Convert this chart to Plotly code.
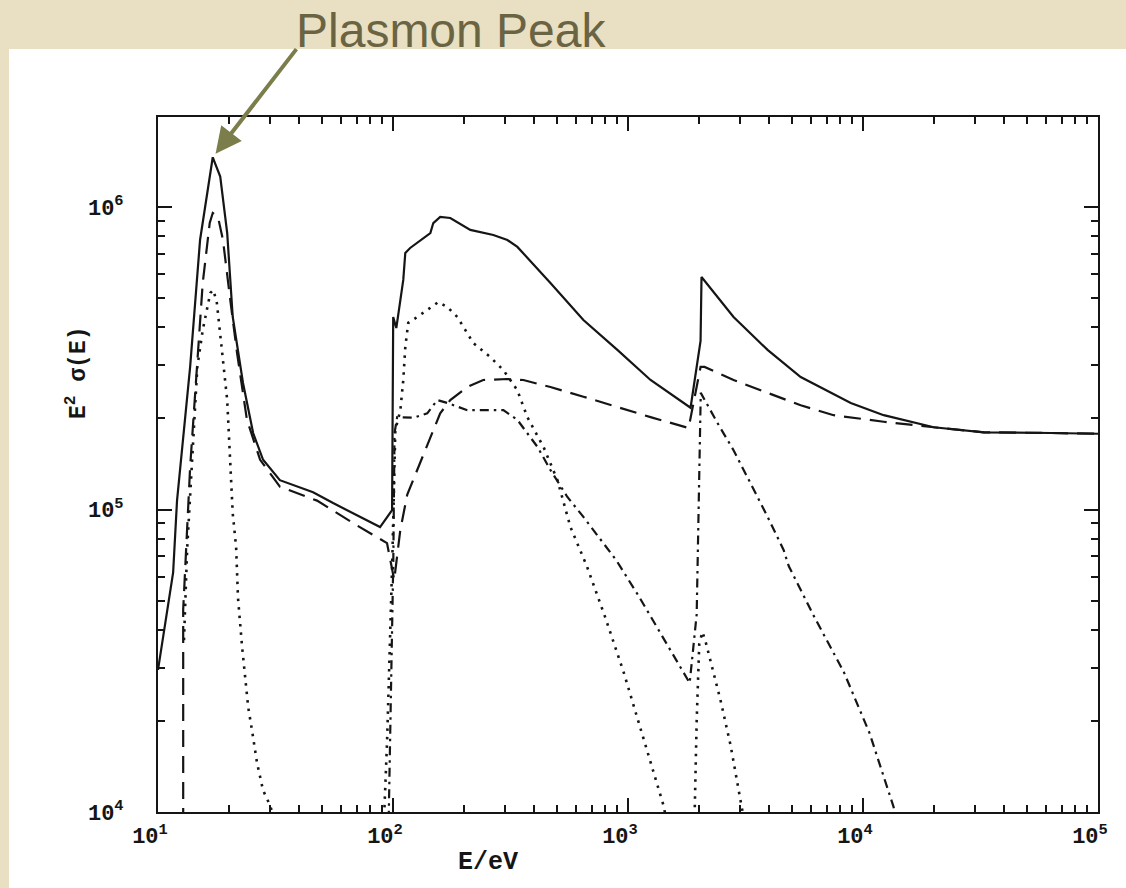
import numpy as np
import plotly.graph_objects as go

# ---------------- data ----------------
# total (solid)
E_total = [10, 10.9, 11.6, 12.05, 13.7, 15.1, 17.1, 18.4, 19.7, 20.8, 23.0, 25.4, 28.0, 33.0,
           45.7, 55.6, 88.1, 99.1, 100.2, 103.3, 106.5, 110.6, 112.8, 118.3, 144.2, 148.4,
           158.8, 175.3, 213.3, 267.3, 306.7, 338.3, 467.7, 646, 901, 1247, 1846, 2036, 2055,
           2813, 3926, 5431, 8870, 12250, 20000, 32700, 63100, 100000]
S_total = [2.95e4, 4.55e4, 6.2e4, 1.07e5, 2.96e5, 7.78e5, 1.46e6, 1.26e6, 8.2e5, 4.33e5, 2.62e5,
           1.79e5, 1.46e5, 1.25e5, 1.14e5, 1.05e5, 8.75e4, 9.96e4, 4.33e5, 3.98e5, 4.74e5,
           5.74e5, 7.05e5, 7.32e5, 8.2e5, 8.85e5, 9.27e5, 9.2e5, 8.4e5, 8.08e5, 7.78e5, 7.38e5,
           5.61e5, 4.23e5, 3.37e5, 2.68e5, 2.17e5, 3.61e5, 5.87e5, 4.33e5, 3.37e5, 2.74e5,
           2.25e5, 2.05e5, 1.87e5, 1.80e5, 1.79e5, 1.78e5]

# dashed
E_dash = [12.8, 12.8, 13.7, 14.7, 15.5, 16.6, 17.1, 18.0, 18.9, 20.3, 21.7, 23.9, 27.2, 33.0,
          47.5, 67.6, 94.3, 101.2, 107.4, 115, 126.9, 158.8, 175.3, 207, 242, 306.7, 358.6,
          467.7, 646, 901, 1247, 1811, 1977, 2036, 2118, 2813, 3926, 5431, 7500, 12250, 20000,
          32700, 63100, 100000]
S_dash = [5e3, 4.66e4, 1.38e5, 2.96e5, 5.61e5, 8.86e5, 9.55e5, 9.27e5, 7.78e5, 4.93e5, 3.29e5,
          1.98e5, 1.46e5, 1.19e5, 1.07e5, 9.02e4, 7.74e4, 5.85e4, 8.55e4, 1.12e5, 1.35e5,
          2.08e5, 2.30e5, 2.54e5, 2.68e5, 2.70e5, 2.68e5, 2.54e5, 2.36e5, 2.18e5, 2.02e5,
          1.86e5, 2.62e5, 2.96e5, 2.96e5, 2.68e5, 2.43e5, 2.21e5, 2.05e5, 1.95e5, 1.87e5,
          1.80e5, 1.79e5, 1.78e5]

# dotted (three pieces, separated by None)
E_dot = [12.9, 13.2, 13.3, 14.7, 15.5, 16.7, 17.2, 17.8, 18.4, 19.7, 20.5, 20.8, 21.5, 21.9,
         22.8, 23.5, 24.2, 25.1, 26.4, 28.0, 30.0, 30.6, 31.5, None,
         90.8, 94.4, 99.3, 102.3, 107.5, 110.6, 112.8, 116.1, 126.9, 155.9, 170.4, 187.8,
         219.7, 259.5, 295, 338, 373, 437, 501, 569, 668, 800, 958, 1146, 1422, 1450, None,
         1910, 1960, 2010, 2075, 2150, 2244, 2476, 2733, 3016, 3078, 3150]
S_dot = [3.7e4, 5.85e4, 7.35e4, 2.96e5, 3.92e5, 5.2e5, 5.32e5, 4.82e5, 3.83e5, 2.30e5, 1.22e5,
         9.7e4, 7.5e4, 5.1e4, 3.51e4, 2.73e4, 2.22e4, 1.87e4, 1.45e4, 1.18e4, 1.05e4, 1e4, 9e3, None,
         8e3, 1.73e4, 6.8e4, 1.83e5, 2.13e5, 2.68e5, 3.44e5, 4.14e5, 4.33e5, 4.85e5, 4.67e5,
         4.33e5, 3.55e5, 3.19e5, 2.89e5, 2.48e5, 2.02e5, 1.61e5, 1.25e5, 8.75e4, 6.5e4, 4.4e4,
         2.9e4, 1.82e4, 1.04e4, 9.5e3, None,
         8e3, 2.0e4, 3.6e4, 3.94e4, 3.6e4, 3.18e4, 2.34e4, 1.66e4, 1.1e4, 1.0e4, 9e3]

# dash-dot
E_dd = [95.5, 97.3, 100.3, 101.5, 104.2, 121.9, 139.9, 154.3, 170.2, 207, 295, 338, 412, 468,
        552, 646, 891, 1106, 1373, 1830, 1960, 2010, 2040, 2405, 2813, 3323, 3930, 4594, 4830,
        6220, 8290, 10670, 13490, 14000]
S_dd = [8e3, 1.82e4, 6.8e4, 1.79e5, 2.02e5, 2.01e5, 2.08e5, 2.30e5, 2.25e5, 2.13e5, 2.13e5,
        1.98e5, 1.61e5, 1.35e5, 1.10e5, 9.45e4, 6.8e4, 5.2e4, 3.9e4, 2.67e4, 4.5e4, 1.5e5,
        2.43e5, 1.93e5, 1.57e5, 1.22e5, 9.45e4, 7.35e4, 6.5e4, 4.4e4, 2.9e4, 1.82e4, 1.04e4, 9e3]

x_tick_vals = [1e1, 1e2, 1e3, 1e4, 1e5]
x_tick_text = ["10<sup>1</sup>", "10<sup>2</sup>", "10<sup>3</sup>", "10<sup>4</sup>", "10<sup>5</sup>"]
y_tick_vals = [1e4, 1e5, 1e6]
y_tick_text = ["10<sup>4</sup>", "10<sup>5</sup>", "10<sup>6</sup>"]
x_minor = [m * 10 ** k for k in range(1, 5) for m in range(2, 10)]
y_minor = [m * 10 ** k for k in range(4, 7) for m in range(2, 10)]

peak_E, peak_S = 17.1, 1.46e6

# ---------------- figure ----------------
W, H = 1126, 888
L, R, T, B = 158, 1098, 117, 812
ink = "#151515"

fig = go.Figure()
fig.add_trace(go.Scatter(x=E_total, y=S_total, mode="lines",
                         line=dict(color=ink, width=2.2), showlegend=False))
fig.add_trace(go.Scatter(x=E_dash, y=S_dash, mode="lines",
                         line=dict(color=ink, width=2.2, dash="17px,9px"), showlegend=False))
fig.add_trace(go.Scatter(x=E_dot, y=S_dot, mode="lines", connectgaps=False,
                         line=dict(color=ink, width=2.6, dash="2.5px,6px"), showlegend=False))
fig.add_trace(go.Scatter(x=E_dd, y=S_dd, mode="lines",
                         line=dict(color=ink, width=2.2, dash="9px,5px,2.5px,5px"), showlegend=False))


def px(xp):
    return (xp - L) / (R - L)


def py(yp):
    return (B - yp) / (B - T)


tickfont = dict(family="Liberation Mono", size=22, color=ink, weight="bold")
axis_common = dict(type="log", showgrid=False, zeroline=False, showline=True,
                   linecolor=ink, linewidth=2, mirror="allticks", ticks="inside",
                   ticklen=14, tickwidth=2, tickcolor=ink, tickfont=tickfont)

fig.update_xaxes(range=[1, 5], tickmode="array", tickvals=x_tick_vals, ticktext=x_tick_text,
                 ticklabelstandoff=3, ticklabelshift=-8,
                 minor=dict(tickmode="array", tickvals=x_minor, ticks="inside", ticklen=7,
                            tickwidth=1.5, tickcolor=ink),
                 **axis_common)
fig.update_yaxes(range=[4, 4 + (B - T) / 302.5], tickmode="array", tickvals=y_tick_vals,
                 ticktext=y_tick_text, ticklabelstandoff=28,
                 minor=dict(tickmode="array", tickvals=y_minor, ticks="inside", ticklen=7,
                            tickwidth=1.5, tickcolor=ink),
                 **axis_common)

fig.update_layout(
    width=W, height=H, autosize=False,
    margin=dict(l=L, r=W - R, t=T, b=H - B, pad=0),
    paper_bgcolor="#e9e0c4", plot_bgcolor="white",
    shapes=[dict(type="rect", xref="paper", yref="paper", layer="below",
                 x0=px(9), x1=px(1130), y0=py(892), y1=py(49),
                 fillcolor="white", line=dict(width=0))],
    annotations=[
        dict(text="Plasmon Peak", xref="paper", yref="paper", x=px(451), y=py(30),
             xanchor="center", yanchor="middle", showarrow=False,
             font=dict(family="Liberation Sans", size=48, color="#6b6442")),
        dict(text="", xref="x", yref="y", x=np.log10(peak_E) + 0.012, y=np.log10(peak_S) + 0.012,
             showarrow=True, arrowhead=2, arrowsize=1.3, arrowwidth=4, arrowcolor="#7b7d4b",
             ax=82, ay=-106),
        dict(text="E/eV", xref="paper", yref="paper", x=px(488), y=py(862),
             xanchor="center", yanchor="middle", showarrow=False,
             font=dict(family="Liberation Mono", size=25, color=ink, weight="bold")),
        dict(text="E<sup>2</sup> σ(E)", xref="paper", yref="paper", x=px(77), y=py(373),
             xanchor="center", yanchor="middle", showarrow=False, textangle=-90,
             font=dict(family="Liberation Mono", size=23, color=ink, weight="bold")),
    ],
)

fig.write_html("out.html")
